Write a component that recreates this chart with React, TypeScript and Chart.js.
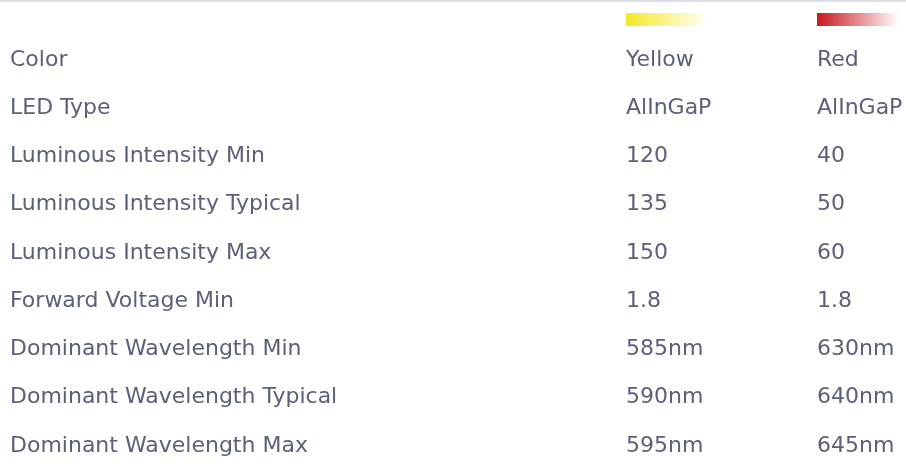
import React, { useEffect, useRef } from 'react';
import { Chart, registerables } from 'chart.js';

Chart.register(...registerables);

const rowLabels = [
  'Color',
  'LED Type',
  'Luminous Intensity Min',
  'Luminous Intensity Typical',
  'Luminous Intensity Max',
  'Forward Voltage Min',
  'Dominant Wavelength Min',
  'Dominant Wavelength Typical',
  'Dominant Wavelength Max',
];
const columns = ['Yellow', 'Red'];
const yellowValues = ['Yellow', 'AlInGaP', '120', '135', '150', '1.8', '585nm', '590nm', '595nm'];
const redValues = ['Red', 'AlInGaP', '40', '50', '60', '1.8', '630nm', '640nm', '645nm'];
const swatchColors = ['#f4e826', '#c8171f'];

const TEXT_COLOR = '#5b6178';
const FONT_FAMILY = '"DejaVu Sans", Verdana, sans-serif';
const FONT_SIZE = 22;

const tablePlugin = {
  id: 'tableCells',
  afterDatasetsDraw(chart: any) {
    const ctx = chart.ctx;
    const area = chart.chartArea;
    ctx.save();
    // top rule
    ctx.fillStyle = '#dddde6';
    ctx.fillRect(0, 0, chart.width, 2);
    chart.data.datasets.forEach((ds: any, di: number) => {
      const meta = chart.getDatasetMeta(di);
      // swatch (legend-like color bar)
      const first = meta.data[0];
      if (first) {
        const sx = first.x;
        const sy = area.top - 47;
        const sw = 82;
        const sh = 13;
        const g = ctx.createLinearGradient(sx, 0, sx + sw, 0);
        g.addColorStop(0, ds.swatch);
        g.addColorStop(1, 'rgba(255,255,255,1)');
        ctx.fillStyle = g;
        ctx.fillRect(sx, sy, sw, sh);
      }
      ctx.fillStyle = TEXT_COLOR;
      ctx.font = `${FONT_SIZE}px ${FONT_FAMILY}`;
      ctx.textAlign = 'left';
      ctx.textBaseline = 'middle';
      meta.data.forEach((el: any, i: number) => {
        ctx.fillText(ds.cells[i], el.x, el.y);
      });
    });
    ctx.restore();
  },
};

export default function App() {
  const ref = useRef<HTMLCanvasElement>(null);
  useEffect(() => {
    if (!ref.current) return;
    const cellSets = [yellowValues, redValues];
    const chart = new Chart(ref.current, {
      type: 'scatter',
      data: {
        datasets: columns.map((c, ci) => ({
          label: c,
          data: rowLabels.map((r) => ({ x: ci, y: r })),
          pointRadius: 0,
          pointHoverRadius: 0,
          showLine: false,
          cells: cellSets[ci],
          swatch: swatchColors[ci],
        })) as any,
      },
      options: {
        animation: false,
        responsive: false,
        events: [],
        layout: { padding: { left: 10, top: 60, bottom: 18, right: 0 } },
        plugins: { legend: { display: false }, tooltip: { enabled: false } },
        scales: {
          x: { type: 'linear', min: 0, max: 1.466, display: false },
          y: {
            type: 'category',
            labels: rowLabels,
            offset: false,
            grid: { display: false },
            border: { display: false },
            ticks: {
              autoSkip: false,
              crossAlign: 'far',
              padding: 0,
              color: TEXT_COLOR,
              font: { family: FONT_FAMILY, size: FONT_SIZE },
            },
            afterFit(scale: any) {
              scale.width = 616;
            },
          },
        },
      } as any,
      plugins: [tablePlugin],
    });
    return () => chart.destroy();
  }, []);
  return (
    <div style={{ position: 'fixed', left: 0, top: 0, width: 906, height: 464, background: '#fff' }}>
      <canvas ref={ref} width={906} height={464} />
    </div>
  );
}
